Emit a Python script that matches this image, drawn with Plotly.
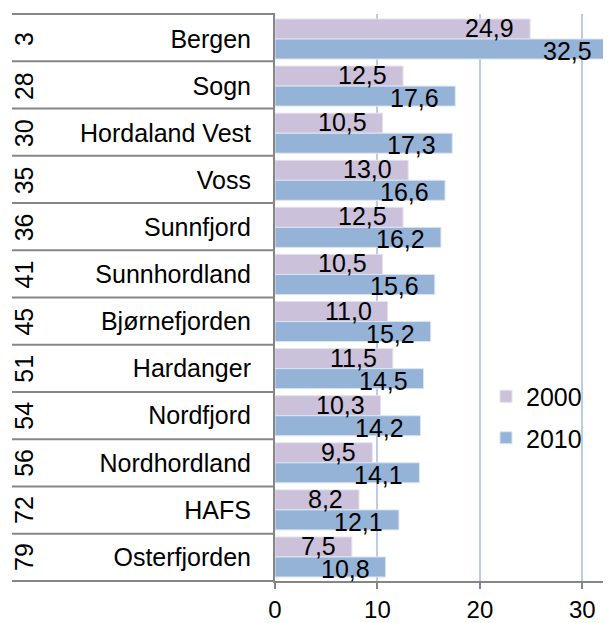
import plotly.graph_objects as go

regions = ["Bergen", "Sogn", "Hordaland Vest", "Voss", "Sunnfjord", "Sunnhordland",
           "Bjørnefjorden", "Hardanger", "Nordfjord", "Nordhordland", "HAFS", "Osterfjorden"]
ranks = [3, 28, 30, 35, 36, 41, 45, 51, 54, 56, 72, 79]
v2000 = [24.9, 12.5, 10.5, 13.0, 12.5, 10.5, 11.0, 11.5, 10.3, 9.5, 8.2, 7.5]
v2010 = [32.5, 17.6, 17.3, 16.6, 16.2, 15.6, 15.2, 14.5, 14.2, 14.1, 12.1, 10.8]
x_ticks = [0, 10, 20, 30]

FONT = "Liberation Sans, Arial, sans-serif"
C2000 = "#ccc1da"
C2010 = "#95b3d7"
GREY = "#868686"

# page is rendered with an 8px body margin, so the figure is 8px smaller
OFF = 8
W, H = 611 - OFF, 623 - OFF
ML, MR, MT, MB = 275 - OFF, 0, 14 - OFF, 623 - 581
pw = W - ML - MR
ph = H - MT - MB
bargap = 0.15
n = len(regions)

def fmt(v):
    return f"{v:.1f}".replace(".", ",")

fig = go.Figure()
fig.add_trace(go.Bar(y=regions, x=v2000, name="2000", orientation="h", legendgroup="a",
                     marker=dict(color=C2000, line=dict(color="#e6e0ec", width=1))))
fig.add_trace(go.Bar(y=regions, x=v2010, name="2010", orientation="h", legendgroup="b",
                     marker=dict(color=C2010, line=dict(color="#dce6f2", width=1))))

annotations = []
half = (1 - bargap) / 4
for i, (a, b) in enumerate(zip(v2000, v2010)):
    annotations.append(dict(x=a, y=i - half, xref="x", yref="y", text=fmt(a),
                            showarrow=False, xanchor="right", yanchor="middle",
                            xshift=-14, yshift=1, font=dict(size=25, color="black", family=FONT)))
    annotations.append(dict(x=b, y=i + half, xref="x", yref="y", text=fmt(b),
                            showarrow=False, xanchor="right", yanchor="middle",
                            xshift=-14, yshift=-2, font=dict(size=25, color="black", family=FONT)))
    annotations.append(dict(x=(24 - 275) / pw, y=i, xref="paper", yref="y", text=str(ranks[i]),
                            showarrow=False, textangle=-90, xanchor="center", yanchor="middle",
                            font=dict(size=25, color="black", family=FONT)))

shapes = []
for k in range(n + 1):
    yy = 1 - k / n
    shapes.append(dict(type="line", xref="paper", yref="paper",
                       x0=(12 - 275) / pw, x1=0, y0=yy, y1=yy,
                       line=dict(color=GREY, width=2)))

fig.update_layout(
    width=W, height=H,
    margin=dict(l=ML, r=MR, t=MT, b=MB, autoexpand=False),
    paper_bgcolor="white", plot_bgcolor="white",
    barmode="group", bargap=bargap, bargroupgap=0,
    font=dict(family=FONT, size=25, color="black"),
    showlegend=True,
    legend=dict(x=(486 - 275) / pw, y=1 - (417 - 14) / ph, xanchor="left", yanchor="middle",
                bgcolor="rgba(0,0,0,0)", font=dict(size=25, family=FONT),
                itemwidth=30, tracegroupgap=6),
    annotations=annotations,
    shapes=shapes,
    xaxis=dict(range=[0, 32.8], tickvals=x_ticks, ticktext=[str(t) for t in x_ticks],
               showgrid=True, gridcolor="#b9cde5", gridwidth=1.5, zeroline=False,
               showline=True, linecolor=GREY, linewidth=2, automargin=False,
               ticks="outside", ticklen=6, tickcolor=GREY, tickwidth=2,
               ticklabelstandoff=0,
               tickfont=dict(size=24, family=FONT, color="black")),
    yaxis=dict(autorange="reversed", type="category", automargin=False,
               showgrid=False, zeroline=False,
               showline=True, linecolor=GREY, linewidth=2,
               ticks="", ticklabelstandoff=17,
               tickfont=dict(size=25, family=FONT, color="black")),
)

fig.write_html("out.html")
